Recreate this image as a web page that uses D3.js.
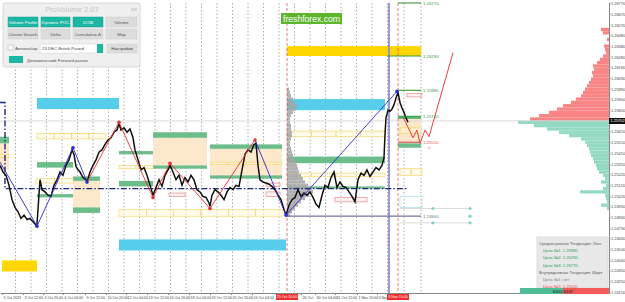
<!DOCTYPE html>
<html>
<head>
<meta charset="utf-8">
<title>GBPUSD H1</title>
<script src="https://d3js.org/d3.v7.min.js"></script>
<style>
  html, body { margin: 0; padding: 0; background: #fff; }
  svg { display: block; font-family: "Liberation Sans", Arial, sans-serif; }
</style>
</head>
<body>
<div id="chart"></div>
<script>
// ---------- data ----------
// hourly closes (bar index, price)
const bars = [0,3,6,9,12,15,18,21,24,27,30,33,36,37,40,42,45,48,51,54,57,60,63,66,69,72,74,76,78,80,83,86,87,90,93,96,99,102,105,108,111,114,117,119,121,124,127,130,133,135,138,141,144,147,150,153,156,159,162,165,168,170,173,176,179,182,185,188,191,194,197,200,203,206,209,210,212,215,218,221,224,227,230,233,236,239,242,245,248,251,254,256,258,260,263,266,269,272,275,278,281,284,286,289,292,295,298,301,304,307,310,313,316,319,322,325,328,331,334,337,340,343,346,349,352,355,358,361,364,367,370,373,376,379,382,384,385,386,388,390,392,394,396,398,400,402,404,406,408];
const closes = [1.2530,1.2524,1.2521,1.2512,1.2499,1.2492,1.2488,1.2482,1.2485,1.2481,1.2482,1.2479,1.2476,1.2477,1.2517,1.2508,1.2506,1.2503,1.2502,1.2512,1.2517,1.2524,1.2521,1.2530,1.2535,1.2544,1.2540,1.2529,1.2526,1.2524,1.2519,1.2517,1.2515,1.2524,1.2530,1.2535,1.2542,1.2544,1.2549,1.2553,1.2555,1.2560,1.2562,1.2568,1.2562,1.2564,1.2560,1.2563,1.2555,1.2544,1.2535,1.2526,1.2528,1.2521,1.2512,1.2503,1.2510,1.2517,1.2511,1.2521,1.2526,1.2530,1.2524,1.2517,1.2521,1.2512,1.2519,1.2515,1.2521,1.2517,1.2508,1.2506,1.2502,1.2501,1.2496,1.2493,1.2503,1.2508,1.2506,1.2503,1.2499,1.2506,1.2510,1.2508,1.2512,1.2511,1.2526,1.2540,1.2544,1.2542,1.2549,1.2550,1.2530,1.2517,1.2515,1.2514,1.2513,1.2511,1.2508,1.2503,1.2499,1.2490,1.2485,1.2494,1.2499,1.2501,1.2508,1.2502,1.2505,1.2503,1.2506,1.2501,1.2495,1.2492,1.2503,1.2512,1.2510,1.2519,1.2524,1.2510,1.2515,1.2511,1.2510,1.2506,1.2502,1.2497,1.2517,1.2523,1.2521,1.2526,1.2520,1.2524,1.2528,1.2526,1.2530,1.2537,1.2558,1.2573,1.2580,1.2579,1.2581,1.2585,1.2591,1.2596,1.2587,1.2582,1.2578,1.2573,1.2569];

// zigzag pivots
const pivotBars   = [0, 37, 73, 87, 119, 153, 170, 210, 255, 286, 397];
const pivotPrices = [1.2533, 1.2475, 1.2546, 1.2515, 1.2569, 1.2501, 1.2532, 1.2491, 1.2553, 1.2485, 1.2597];
const pivotColors = ["red", "blue", "blue", "blue", "red", "red", "red", "red", "red", "blue", "blue"];

// forecast path
const fcBars   = [403, 413, 417, 420, 425, 429, 453];
const fcPrices = [1.2574, 1.2555, 1.2562, 1.2550, 1.2562, 1.2556, 1.2632];

// zones [fromBar, toBar, top, bottom]
const peachZones = [[0,9,1.2550,1.2526],[73,100,1.2516,1.2492],[153,207,1.2555,1.2530],[210,282,1.2545,1.2521],[398,421,1.2572,1.2550]];
const greenZones = [[0,9,1.2556,1.2550],[37,73,1.2533,1.2528],[37,73,1.2504,1.2501],[73,100,1.2520,1.2516],[73,100,1.2492,1.2487],[119,153,1.2543,1.2540],[119,153,1.2516,1.2511],[153,207,1.2560,1.2555],[153,207,1.2530,1.2527],[210,282,1.2549,1.2545],[210,282,1.2521,1.2518],[287,385,1.2538,1.2532],[287,385,1.2511,1.2509],[398,421,1.2575,1.2572],[398,421,1.2550,1.2546]];
const cyanZones  = [[37,119,1.2591,1.2581],[119,286,1.2463,1.2453],[287,385,1.2590,1.2580]];
const goldZones  = [[287,421,1.2638,1.2629],[2,37,1.2444,1.2434]];
// outlined zones [fromBar, toBar, top, bottom, parts]
const yellowBoxes = [[37,106,1.2559,1.2554,4],[0,9,1.2540,1.2537,1],[119,153,1.2530,1.2527,2],[36,73,1.2518,1.2514,2],[119,283,1.2490,1.2484,6],[210,282,1.2533,1.2531,4],[287,385,1.2561,1.2556,4],[287,385,1.2523,1.2520,4],[400,421,1.2564,1.2559,2],[400,422,1.2527,1.2521,2]];
const pinkBoxes = [[169,185,1.2505,1.2502],[266,280,1.2514,1.2511],[266,280,1.2506,1.2502],[335,367,1.2501,1.2497],[407,422,1.2595,1.2592]];
const tealBoxes = [[400,422,1.2502,1.2492]];

// target levels
const levelPrices = [1.26770, 1.26290, 1.25980, 1.25740, 1.25510];
const levelNames  = ["1.26770", "1.26290", "1.25980", "1.25740", "1.25510"];
const levelSide   = ["long", "long", "long", "long", "short"];

const poc = 1.2509;           // navy dash-dot line
const lowLine = 1.2484;       // slate support
const lastPrice = 1.25702;

// session volume profile (from 25 Oct)
const sessLevels = [1.2599,1.2596,1.2593,1.2590,1.2587,1.2584,1.2581,1.2578,1.2575,1.2572,1.2569,1.2566,1.2563,1.2560,1.2557,1.2554,1.2551,1.2548,1.2545,1.2542,1.2539,1.2536,1.2533,1.2530,1.2527,1.2524,1.2521,1.2518,1.2515,1.2512,1.2509,1.2506,1.2503,1.2500,1.2497,1.2494,1.2491,1.2488,1.2485];
const sessVolume = [2,3,4,6,8,10,9,6,4,3,3,4,4,5,5,4,3,3,4,5,6,7,9,10,11,12,14,16,18,21,25,26,22,18,14,11,8,5,3];

// right volume profile: above (sell) / below (buy) last price
const askLevels = [1.2653,1.2650,1.2647,1.2644,1.2641,1.2638,1.2635,1.2632,1.2629,1.2626,1.2623,1.2620,1.2617,1.2614,1.2611,1.2608,1.2605,1.2602,1.2599,1.2596,1.2593,1.2590,1.2587,1.2584,1.2581,1.2578,1.2575,1.2572];
const askVolume = [8,6,0,2,0,5,4,3,6,9,12,16,15,17,16,18,20,22,24,26,28,33,38,46,52,60,70,79];
const bidLevels = [1.2569,1.2566,1.2563,1.2560,1.2557,1.2554,1.2551,1.2548,1.2545,1.2542,1.2539,1.2536,1.2533,1.2530,1.2527,1.2524,1.2521,1.2518,1.2515,1.2512,1.2509,1.2506,1.2503,1.2500,1.2497,1.2494,1.2491];
const bidVolume = [91,75,62,50,40,28,24,22,20,19,18,16,15,13,12,10,6,4,8,3,6,29,4,3,2,8,2];

// axes
const priceTicks = [1.26770,1.26670,1.26570,1.26480,1.26380,1.26280,1.26190,1.26090,1.25990,1.25900,1.25800,1.25610,1.25510,1.25410,1.25310,1.25220,1.25120,1.25020,1.24930,1.24830,1.24730,1.24640,1.24540,1.24440,1.24350,1.24250,1.24150];
const gridBars = [15.5,31,46.5,62,77.5,93,108.5,124,139.5,155,170.5,186,201.5,217,232.5,248,263.5,279,294.5,310,325.5,341,356.5,372,387.5,404,421];
const timeBars = [2,23,43,63,85,106,126,147,168,189,210,231,252,301,315,335,357,377];
const timeLabels = ["2 Oct 2023","3 Oct 12:00","4 Oct 20:00","6 Oct 04:00","9 Oct 12:00","10 Oct 20:00","12 Oct 04:00","13 Oct 12:00","16 Oct 20:00","18 Oct 04:00","19 Oct 12:00","20 Oct 20:00","24 Oct 04:00","26 Oct","30 Oct 04:00","31 Oct 12:00","1 Nov 20:00","3 Nov"];
const markBars = [287, 398];
const markLabels = ["25 Oct 10:00", "3 Nov 15:00"];

// ---------- chart ----------
const W = 625, H = 302;
const plotR = 609, plotT = 3, plotB = 293;

const svg = d3.select("#chart").append("svg")
  .attr("width", W).attr("height", H);

svg.append("rect").attr("width", W).attr("height", H).attr("fill", "#fff");

const x = d3.scaleLinear().domain([0, 609]).range([0, plotR]);
const y = d3.scaleLinear().domain([1.24145, 1.26770]).range([plotB, plotT]);
const vol = d3.scaleLinear().domain([0, 100]).range([0, 100]);

const plot = svg.append("g");

// grid
plot.selectAll("line.grid").data(gridBars).enter().append("line")
  .attr("x1", d => x(d)).attr("x2", d => x(d))
  .attr("y1", plotT).attr("y2", plotB)
  .attr("stroke", "#8a8a8a").attr("stroke-width", 0.7)
  .attr("stroke-dasharray", "1.5,2");

// right-hand profile
const rowH = y(1.2500) - y(1.2503);
plot.selectAll("rect.ask").data(askLevels).enter().append("rect")
  .attr("x", (d, i) => plotR - vol(askVolume[i]))
  .attr("y", d => y(d + 0.00015))
  .attr("width", (d, i) => vol(askVolume[i]))
  .attr("height", rowH)
  .attr("fill", "#fb8585");
plot.selectAll("rect.bid").data(bidLevels).enter().append("rect")
  .attr("x", (d, i) => plotR - vol(bidVolume[i]))
  .attr("y", d => y(d + 0.00015))
  .attr("width", (d, i) => vol(bidVolume[i]))
  .attr("height", rowH)
  .attr("fill", "#94d9c2");

// zones
function zones(list, fill) {
  plot.append("g").selectAll("rect").data(list).enter().append("rect")
    .attr("x", d => x(d[0])).attr("width", d => x(d[1]) - x(d[0]))
    .attr("y", d => y(d[2])).attr("height", d => y(d[3]) - y(d[2]))
    .attr("fill", fill);
}
zones(peachZones, "#fde8cc");
zones(greenZones, "#6dbd8b");
zones(cyanZones, "#56cdea");
zones(goldZones, "#ffd600");

// outlined boxes
yellowBoxes.forEach(d => {
  const w = (x(d[1]) - x(d[0])) / d[4];
  for (let k = 0; k < d[4]; k++) {
    plot.append("rect")
      .attr("x", x(d[0]) + k * w).attr("width", w)
      .attr("y", y(d[2])).attr("height", y(d[3]) - y(d[2]))
      .attr("fill", "rgba(255,248,215,0.5)")
      .attr("stroke", "#f2d870").attr("stroke-width", 0.7);
  }
});
plot.append("g").selectAll("rect").data(pinkBoxes).enter().append("rect")
  .attr("x", d => x(d[0])).attr("width", d => x(d[1]) - x(d[0]))
  .attr("y", d => y(d[2])).attr("height", d => y(d[3]) - y(d[2]))
  .attr("fill", "rgba(255,225,225,0.4)")
  .attr("stroke", "#e58c86").attr("stroke-width", 0.7);
plot.append("g").selectAll("rect").data(tealBoxes).enter().append("rect")
  .attr("x", d => x(d[0])).attr("width", d => x(d[1]) - x(d[0]))
  .attr("y", d => y(d[2])).attr("height", d => y(d[3]) - y(d[2]))
  .attr("fill", "none")
  .attr("stroke", "#a8e0e0").attr("stroke-width", 0.7);

// session profile (grey)
plot.selectAll("rect.sess").data(sessLevels).enter().append("rect")
  .attr("x", x(287))
  .attr("y", d => y(d + 0.00015))
  .attr("width", (d, i) => vol(sessVolume[i]))
  .attr("height", rowH)
  .attr("fill", "#a3a3a3").attr("opacity", 0.85);

// last price line
plot.append("line")
  .attr("x1", 0).attr("x2", plotR)
  .attr("y1", y(lastPrice)).attr("y2", y(lastPrice))
  .attr("stroke", "#cfcfcf").attr("stroke-width", 0.8);

// vertical markers
plot.selectAll("line.mark").data(markBars).enter().append("line")
  .attr("x1", d => x(d)).attr("x2", d => x(d))
  .attr("y1", plotT).attr("y2", plotB)
  .attr("stroke", "#e05a5a").attr("stroke-width", 0.8)
  .attr("stroke-dasharray", "3,2");
plot.append("line")
  .attr("x1", x(389)).attr("x2", x(389))
  .attr("y1", plotT).attr("y2", plotB)
  .attr("stroke", "#8f8fd0").attr("stroke-width", 1.8);

// navy POC line
const navy = d3.line().x(d => x(d[0])).y(d => y(d[1]));
plot.append("path")
  .attr("d", navy([[0, 1.2587], [5, 1.2587], [5, poc], [407, poc]]))
  .attr("fill", "none")
  .attr("stroke", "#1e2a7a").attr("stroke-width", 1.4)
  .attr("stroke-dasharray", "6,2,1.5,2");

// slate support line
plot.append("line")
  .attr("x1", x(286)).attr("x2", x(421))
  .attr("y1", y(lowLine)).attr("y2", y(lowLine))
  .attr("stroke", "#7474a4").attr("stroke-width", 1.2);
plot.append("text")
  .attr("x", x(423)).attr("y", y(lowLine) + 1.5)
  .attr("font-size", 4.3).attr("fill", "#777").text("1.24840");

// teal markers to the right
[[1.2491], [1.2478]].forEach(d => {
  plot.append("line")
    .attr("x1", x(400)).attr("x2", x(470))
    .attr("y1", y(d[0])).attr("y2", y(d[0]))
    .attr("stroke", "#dcdcdc").attr("stroke-width", 1);
});
plot.selectAll("circle.tm").data([[433,1.2491],[470,1.2491],[470,1.2484],[433,1.2478],[470,1.2478]]).enter()
  .append("circle")
  .attr("cx", d => x(d[0])).attr("cy", d => y(d[1])).attr("r", 1.6)
  .attr("fill", "#7fd3cf");

// price
const priceLine = d3.line().x((d, i) => x(bars[i])).y(d => y(d));
plot.append("path")
  .attr("d", priceLine(closes))
  .attr("fill", "none")
  .attr("stroke", "#111").attr("stroke-width", 1.5)
  .attr("stroke-linejoin", "miter");

// zigzag
const zzColor = { red: "#e63232", blue: "#2a2ad0" };
for (let i = 1; i < pivotBars.length; i++) {
  plot.append("line")
    .attr("x1", x(pivotBars[i - 1])).attr("y1", y(pivotPrices[i - 1]))
    .attr("x2", x(pivotBars[i])).attr("y2", y(pivotPrices[i]))
    .attr("stroke", zzColor[pivotColors[i]]).attr("stroke-width", 0.9);
}
plot.selectAll("circle.pv").data(pivotBars.slice(1)).enter().append("circle")
  .attr("cx", d => x(d))
  .attr("cy", (d, i) => y(pivotPrices[i + 1]))
  .attr("r", 1.8)
  .attr("fill", (d, i) => zzColor[pivotColors[i + 1]]);

// forecast
const fcLine = d3.line().x((d, i) => x(fcBars[i])).y(d => y(d));
plot.append("path")
  .attr("d", fcLine(fcPrices))
  .attr("fill", "none")
  .attr("stroke", "#f03c3c").attr("stroke-width", 1);

// target levels
levelPrices.forEach((p, i) => {
  const c = levelSide[i] === "long" ? "#3a9a3a" : "#e04848";
  plot.append("line")
    .attr("x1", x(i === 1 ? 387 : 398)).attr("x2", x(421))
    .attr("y1", y(p)).attr("y2", y(p))
    .attr("stroke", c).attr("stroke-width", 1.1);
  plot.append("text")
    .attr("x", x(423)).attr("y", y(p) + 1.5)
    .attr("font-size", 4.3).attr("fill", c).text(levelNames[i]);
});
plot.append("text")
  .attr("x", x(428)).attr("y", y(levelPrices[4]) + 7)
  .attr("font-size", 4.3).attr("fill", "#e06a6a").text("0");

// axes
const yAxis = svg.append("g")
  .attr("transform", `translate(${plotR},0)`)
  .call(d3.axisRight(y).tickValues(priceTicks).tickFormat(d3.format(".5f")).tickSize(1.5).tickSizeOuter(0));
yAxis.select(".domain").attr("stroke", "#888");
yAxis.selectAll("line").attr("stroke", "#888");
yAxis.selectAll("text").attr("x", 2).attr("font-size", 3.9).attr("fill", "#444");

const xAxis = svg.append("g")
  .attr("transform", `translate(0,${plotB})`)
  .call(d3.axisBottom(x).tickValues(timeBars).tickFormat((d, i) => timeLabels[i]).tickSize(2).tickSizeOuter(0));
xAxis.select(".domain").attr("stroke", "#888");
xAxis.selectAll("line").attr("stroke", "#888");
xAxis.selectAll("text").attr("text-anchor", "start").attr("x", 1).attr("y", 3)
  .attr("font-size", 3.6).attr("fill", "#444");

// highlighted time labels
markBars.forEach((b, i) => {
  svg.append("rect")
    .attr("x", x(b) - 11).attr("y", plotB + 1).attr("width", 22).attr("height", 6)
    .attr("fill", "#f02c2c");
  svg.append("text")
    .attr("x", x(b)).attr("y", plotB + 5.4).attr("text-anchor", "middle")
    .attr("font-size", 3.6).attr("fill", "#fff").text(markLabels[i]);
});

// current price label
svg.append("rect").attr("x", plotR).attr("y", y(lastPrice) - 3).attr("width", 16).attr("height", 6).attr("fill", "#111");
svg.append("text").attr("x", plotR + 1.5).attr("y", y(lastPrice) + 1.5)
  .attr("font-size", 3.9).attr("fill", "#fff").text("1.25702");

// info box
const info = svg.append("g");
info.append("rect").attr("x", 537).attr("y", 237).attr("width", 71).attr("height", 51)
  .attr("fill", "#e8e8e8").attr("stroke", "#dedede");
const infoLines = [
  ["Среднесрочная Тенденция: Лонг", "#555", 539],
  ["Цель №1: 1.25990", "#2a9d48", 543],
  ["Цель №2: 1.26290", "#2a9d48", 543],
  ["Цель №3: 1.26770", "#2a9d48", 543],
  ["Внутридневная Тенденция: Шорт", "#555", 539],
  ["Цель №1: нет", "#808080", 543],
  ["Цель №2: 1.25510", "#e04848", 543]
];
infoLines.forEach((d, i) => {
  info.append("text").attr("x", d[2]).attr("y", 245 + i * 7.2)
    .attr("font-size", 4.1).attr("fill", d[1]).text(d[0]);
});
info.append("rect").attr("x", 520).attr("y", 288).attr("width", 43).attr("height", 6).attr("fill", "#4dbd94");
info.append("rect").attr("x", 563).attr("y", 288).attr("width", 46).attr("height", 6).attr("fill", "#f25a5a");
info.append("text").attr("x", 563).attr("y", 292.6).attr("text-anchor", "middle")
  .attr("font-size", 4.3).attr("fill", "#222").text("8433.8437");

// freshforex badge
svg.append("rect").attr("x", 281).attr("y", 13).attr("width", 61).attr("height", 11).attr("fill", "#5db52e");
svg.append("text").attr("x", 311.5).attr("y", 21.6).attr("text-anchor", "middle")
  .attr("font-size", 8.6).attr("fill", "#fff").text("freshforex.com");

// ProVolume panel
const pnl = svg.append("g");
pnl.append("rect").attr("x", 3).attr("y", 3).attr("width", 137).attr("height", 64).attr("rx", 2)
  .attr("fill", "#efefef").attr("stroke", "#d0d0d0").attr("stroke-width", 0.8);
pnl.append("text").attr("x", 72).attr("y", 12).attr("text-anchor", "middle")
  .attr("font-size", 7.5).attr("fill", "#c4c4c4").text("ProVolume 2.07");
pnl.append("rect").attr("x", 131).attr("y", 8).attr("width", 6).attr("height", 3).attr("fill", "#d8d8d8");
const buttons = [
  ["Volume Profile", 8, 17, true], ["Dynamic POC", 41, 17, true], ["DOM", 73, 17, true], ["Volume", 106, 17, false],
  ["Cluster Search", 8, 29, false], ["Delta", 41, 29, false], ["Cumulative Δ", 73, 29, false], ["Map", 106, 29, false]
];
buttons.forEach(b => {
  const w = b[1] === 106 ? 31 : (b[1] === 41 ? 29 : 30);
  pnl.append("rect").attr("x", b[1]).attr("y", b[2]).attr("width", w).attr("height", 10)
    .attr("fill", b[3] ? "#1db5a3" : "#dcdcdc").attr("stroke", b[3] ? "#17a393" : "#cfcfcf").attr("stroke-width", 0.5);
  pnl.append("text").attr("x", b[1] + w / 2).attr("y", b[2] + 7).attr("text-anchor", "middle")
    .attr("font-size", 4.4).attr("fill", b[3] ? "#fff" : "#555").text(b[0]);
});
pnl.append("rect").attr("x", 8).attr("y", 45).attr("width", 5).attr("height", 5).attr("fill", "#fff").attr("stroke", "#aaa").attr("stroke-width", 0.5);
pnl.append("text").attr("x", 15).attr("y", 49.5).attr("font-size", 4.4).attr("fill", "#555").text("Автовыбор");
pnl.append("rect").attr("x", 40).attr("y", 44).attr("width", 63).attr("height", 9).attr("fill", "#fff").attr("stroke", "#d0d0d0").attr("stroke-width", 0.5);
pnl.append("text").attr("x", 42).attr("y", 50).attr("font-size", 4.3).attr("fill", "#444").text("23 DEC British Pound");
pnl.append("rect").attr("x", 97).attr("y", 44).attr("width", 6).attr("height", 9).attr("fill", "#1db5a3");
pnl.append("rect").attr("x", 107).attr("y", 44).attr("width", 30).attr("height", 9).attr("fill", "#dcdcdc").attr("stroke", "#cfcfcf").attr("stroke-width", 0.5);
pnl.append("text").attr("x", 122).attr("y", 50).attr("text-anchor", "middle").attr("font-size", 4.4).attr("fill", "#444").text("Настройки");
pnl.append("rect").attr("x", 9).attr("y", 56).attr("width", 14).attr("height", 7).attr("fill", "#1db5a3");
pnl.append("text").attr("x", 27).attr("y", 61.5).attr("font-size", 4.4).attr("fill", "#555").text("Динамический Forward-рынок");
</script>
</body>
</html>
